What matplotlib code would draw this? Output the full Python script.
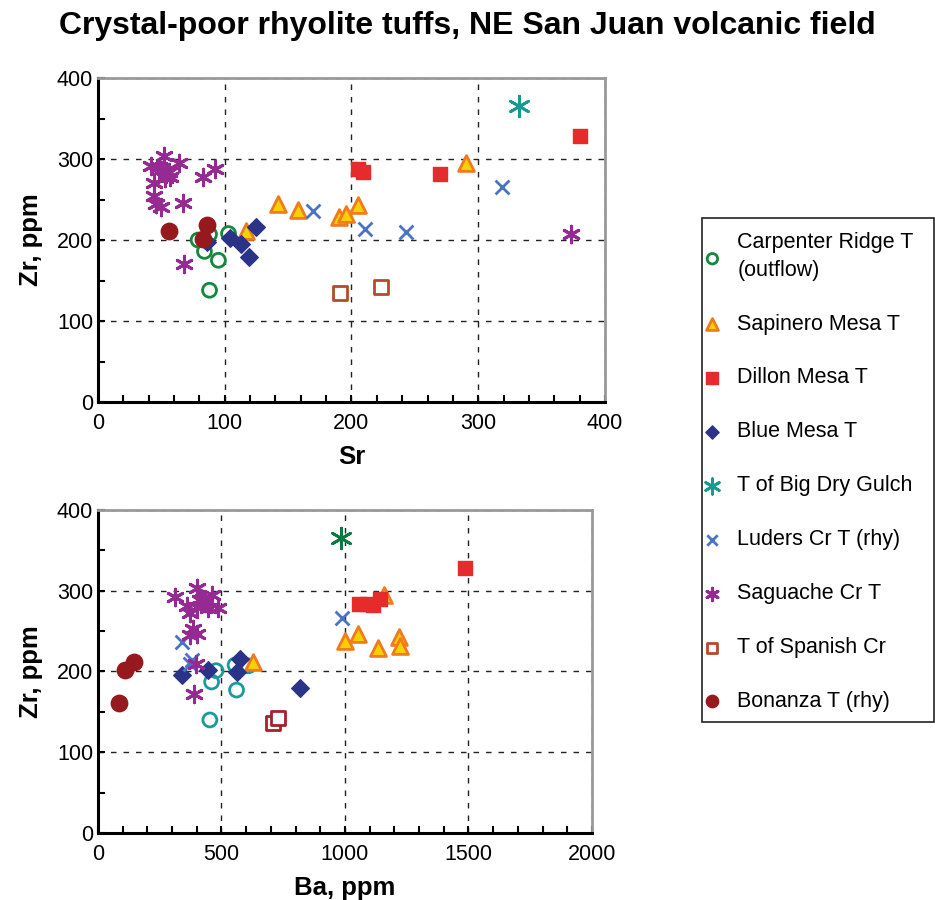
import matplotlib
matplotlib.use('Agg')
import matplotlib.pyplot as plt
from matplotlib.patches import Rectangle
from matplotlib.ticker import MultipleLocator

plt.rcParams['font.family'] = ['Liberation Sans', 'DejaVu Sans']

# top panel: Sr vs Zr
sr_carp = [88, 79, 84, 95, 103, 88]
zr_carp_sr = [207, 200, 186, 175, 208, 138]
sr_sap = [117, 142, 158, 190, 196, 205, 290]
zr_sap_sr = [211, 244, 237, 228, 232, 243, 295]
sr_dil = [205, 209, 270, 380]
zr_dil_sr = [288, 284, 282, 328]
sr_blue = [86, 104, 113, 119, 125]
zr_blue_sr = [198, 202, 195, 179, 216]
sr_bdg = [332]
zr_bdg_sr = [365]
sr_lud = [170, 211, 243, 319]
zr_lud_sr = [236, 214, 210, 266]
sr_sag = [42, 52, 64, 44, 54, 50, 57, 53, 83, 92, 44, 46, 50, 67, 68, 373, 48, 56]
zr_sag_sr = [291, 304, 295, 271, 282, 286, 278, 276, 278, 288, 254, 245, 241, 246, 171, 207, 290, 284]
sr_spa = [191, 223]
zr_spa_sr = [135, 142]
sr_bon = [56, 86, 83]
zr_bon_sr = [211, 218, 201]

# bottom panel: Ba vs Zr
ba_carp = [478, 460, 555, 609, 561, 453]
zr_carp_ba = [201, 187, 208, 207, 177, 140]
ba_sap = [629, 1000, 1054, 1135, 1220, 1223, 1159]
zr_sap_ba = [212, 238, 246, 229, 243, 232, 295]
ba_dil = [1055, 1090, 1112, 1140, 1486]
zr_dil_ba = [284, 283, 282, 290, 328]
ba_blue = [341, 447, 575, 561, 818]
zr_blue_ba = [196, 202, 216, 199, 179]
ba_bdg = [983]
zr_bdg_ba = [365]
ba_lud = [339, 379, 372, 987]
zr_lud_ba = [237, 214, 209, 266]
ba_sag = [312, 402, 359, 372, 426, 460, 446, 487, 400, 386, 372, 400, 397, 389, 415, 435]
zr_sag_ba = [292, 303, 281, 272, 290, 295, 278, 278, 280, 253, 245, 247, 209, 172, 288, 285]
ba_spa = [707, 730]
zr_spa_ba = [136, 142]
ba_bon = [86, 109, 147]
zr_bon_ba = [161, 202, 212]

labels = ['Carpenter Ridge T\n(outflow)', 'Sapinero Mesa T', 'Dillon Mesa T', 'Blue Mesa T',
          'T of Big Dry Gulch', 'Luders Cr T (rhy)', 'Saguache Cr T', 'T of Spanish Cr', 'Bonanza T (rhy)']

star6 = (6, 2, 0)

fig = plt.figure(figsize=(9.35, 9), dpi=100)
ax1 = fig.add_axes([0.1048, 0.5533, 0.5422, 0.36])
ax2 = fig.add_axes([0.1048, 0.0744, 0.5283, 0.359])

def draw(ax, xs, ys, carp_c, bdg_c, spa_c):
    h = []
    h.append(ax.scatter(xs[0], ys[0], s=100, facecolors='none', edgecolors=carp_c, linewidths=2, zorder=3))
    h.append(ax.scatter(xs[1], ys[1], s=130, marker='^', facecolors='#f7d000', edgecolors='#f07a1e', linewidths=2, zorder=3))
    h.append(ax.scatter(xs[2], ys[2], s=115, marker='s', color='#e52b2b', zorder=3))
    h.append(ax.scatter(xs[3], ys[3], s=80, marker='D', color='#2b3388', zorder=3))
    h.append(ax.scatter(xs[4], ys[4], s=220, marker=star6, color=bdg_c, linewidths=2, zorder=3))
    h.append(ax.scatter(xs[5], ys[5], s=100, marker='x', color='#4a74c2', linewidths=2, zorder=3))
    h.append(ax.scatter(xs[6], ys[6], s=140, marker=star6, color='#952b92', linewidths=2.2, zorder=3))
    h.append(ax.scatter(xs[7], ys[7], s=100, marker='s', facecolors='white', edgecolors=spa_c, linewidths=2, zorder=3))
    h.append(ax.scatter(xs[8], ys[8], s=140, marker='o', color='#961a1d', zorder=3))
    return h

hands = draw(ax1,
             [sr_carp, sr_sap, sr_dil, sr_blue, sr_bdg, sr_lud, sr_sag, sr_spa, sr_bon],
             [zr_carp_sr, zr_sap_sr, zr_dil_sr, zr_blue_sr, zr_bdg_sr, zr_lud_sr, zr_sag_sr, zr_spa_sr, zr_bon_sr],
             '#14883c', '#179a92', '#b04e2a')
draw(ax2,
     [ba_carp, ba_sap, ba_dil, ba_blue, ba_bdg, ba_lud, ba_sag, ba_spa, ba_bon],
     [zr_carp_ba, zr_sap_ba, zr_dil_ba, zr_blue_ba, zr_bdg_ba, zr_lud_ba, zr_sag_ba, zr_spa_ba, zr_bon_ba],
     '#1a9b9b', '#0b7a40', '#a5222a')

for ax, xmax, xmaj, xmin in [(ax1, 400, 100, 20), (ax2, 2000, 500, 100)]:
    ax.set_xlim(0, xmax)
    ax.set_ylim(0, 400)
    ax.xaxis.set_major_locator(MultipleLocator(xmaj))
    ax.xaxis.set_minor_locator(MultipleLocator(xmin))
    ax.yaxis.set_major_locator(MultipleLocator(100))
    ax.yaxis.set_minor_locator(MultipleLocator(50))
    ax.tick_params(which='both', direction='in', length=5, width=1.5, labelsize=15.5)
    ax.tick_params(axis='x', pad=8)
    ax.grid(True, which='major', linestyle=(0, (4, 5)), color='#222222', linewidth=1)
    ax.spines['left'].set_linewidth(2.2)
    ax.spines['bottom'].set_linewidth(2.2)
    ax.spines['top'].set_color('#999999')
    ax.spines['right'].set_color('#999999')
    ax.spines['top'].set_linewidth(2)
    ax.spines['right'].set_linewidth(2)
    ax.set_ylabel('Zr, ppm', fontsize=18.5, fontweight='bold', labelpad=10)

ax1.set_xlabel('Sr', fontsize=18.5, fontweight='bold', labelpad=8)
ax2.set_xlabel('Ba, ppm', fontsize=18.5, fontweight='bold', labelpad=8)

fig.text(0.5, 0.988, 'Crystal-poor rhyolite tuffs, NE San Juan volcanic field',
         ha='center', va='top', fontsize=23, fontweight='bold')

# legend box drawn by hand, legend itself without frame
fig.patches.append(Rectangle((0.7508, 0.1978), 0.2481, 0.56, transform=fig.transFigure,
                             facecolor='white', edgecolor='#222222', linewidth=1.2, zorder=0))
leg = fig.legend(hands, labels, loc='upper left', bbox_to_anchor=(0.7527, 0.742),
                 borderaxespad=0, borderpad=0, fontsize=15.5, labelspacing=1.53, markerscale=0.75,
                 handletextpad=0.75, frameon=False, handlelength=0.8)
for t in leg.get_texts():
    t.set_linespacing(1.4)

plt.savefig('out.png', dpi=100)
